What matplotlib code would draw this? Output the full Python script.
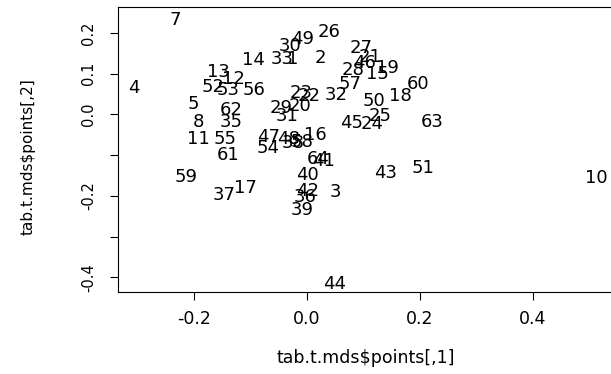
import matplotlib
matplotlib.use("Agg")
import matplotlib.pyplot as plt

# MDS coordinates
labels = ["1", "2", "3", "4", "5", "7", "8", "10", "11", "12",
          "13", "14", "15", "16", "17", "18", "19", "20", "21", "22",
          "23", "24", "25", "26", "27", "28", "29", "30", "31", "32",
          "33", "35", "36", "37", "38", "39", "40", "41", "42", "43",
          "44", "45", "46", "47", "48", "49", "50", "51", "52", "53",
          "54", "55", "56", "57", "58", "59", "60", "61", "62", "63",
          "64"]
xs = [-0.024, 0.025, 0.050, -0.306, -0.201, -0.233, -0.192, 0.512, -0.191, -0.130,
      -0.157, -0.095, 0.126, 0.016, -0.109, 0.165, 0.142, -0.012, 0.112, 0.004,
      -0.010, 0.116, 0.130, 0.039, 0.096, 0.082, -0.045, -0.030, -0.035, 0.052,
      -0.044, -0.134, -0.003, -0.146, -0.024, -0.008, 0.001, 0.029, 0.001, 0.140,
      0.050, 0.080, 0.103, -0.067, -0.033, -0.008, 0.119, 0.206, -0.166, -0.139,
      -0.068, -0.145, -0.093, 0.077, -0.008, -0.214, 0.197, -0.139, -0.134, 0.222,
      0.020]
ys = [0.136, 0.139, -0.191, 0.065, 0.026, 0.232, -0.018, -0.156, -0.060, 0.087,
      0.104, 0.134, 0.100, -0.050, -0.181, 0.045, 0.114, 0.021, 0.141, 0.045,
      0.053, -0.023, -0.004, 0.203, 0.164, 0.109, 0.016, 0.168, -0.004, 0.048,
      0.136, -0.018, -0.203, -0.198, -0.070, -0.235, -0.149, -0.114, -0.188, -0.144,
      -0.417, -0.021, 0.127, -0.055, -0.060, 0.186, 0.033, -0.132, 0.068, 0.060,
      -0.082, -0.060, 0.060, 0.075, -0.068, -0.154, 0.075, -0.100, 0.011, -0.018,
      -0.109]

xticks = [-0.2, 0.0, 0.2, 0.4]
xticklabels = ["-0.2", "0.0", "0.2", "0.4"]
yticks = [-0.4, -0.3, -0.2, -0.1, 0.0, 0.1, 0.2]
yticklabels = ["-0.4", "", "-0.2", "", "0.0", "0.1", "0.2"]

plt.rcParams['font.family'] = ['DejaVu Sans']

fig = plt.figure(figsize=(6.11, 3.74), dpi=100)
ax = fig.add_axes([118 / 611, 82 / 374, 495 / 611, 285 / 374])

for lab, x, y in zip(labels, xs, ys):
    ax.text(x, y, lab, ha='center', va='center', fontsize=13, color='black')

ax.set_xlim(-0.334, 0.542)
ax.set_ylim(-0.436, 0.264)
ax.set_xticks(xticks)
ax.set_xticklabels(xticklabels)
ax.set_yticks(yticks)
ax.set_yticklabels(yticklabels, rotation=90, va='center')
ax.tick_params(direction='out', length=6, width=0.8, colors='black')
ax.tick_params(axis='x', labelsize=12.5, pad=7)
ax.tick_params(axis='y', labelsize=10.5, pad=10)
for s in ax.spines.values():
    s.set_linewidth(0.8)
    s.set_color('black')

ax.set_xlabel("tab.t.mds$points[,1]", fontsize=12.5, color='black')
ax.set_ylabel("tab.t.mds$points[,2]", fontsize=11, color='black')
ax.xaxis.set_label_coords(0.5, -0.2)
ax.yaxis.set_label_coords(-0.166, 0.474)

fig.savefig("out.png", dpi=100)
